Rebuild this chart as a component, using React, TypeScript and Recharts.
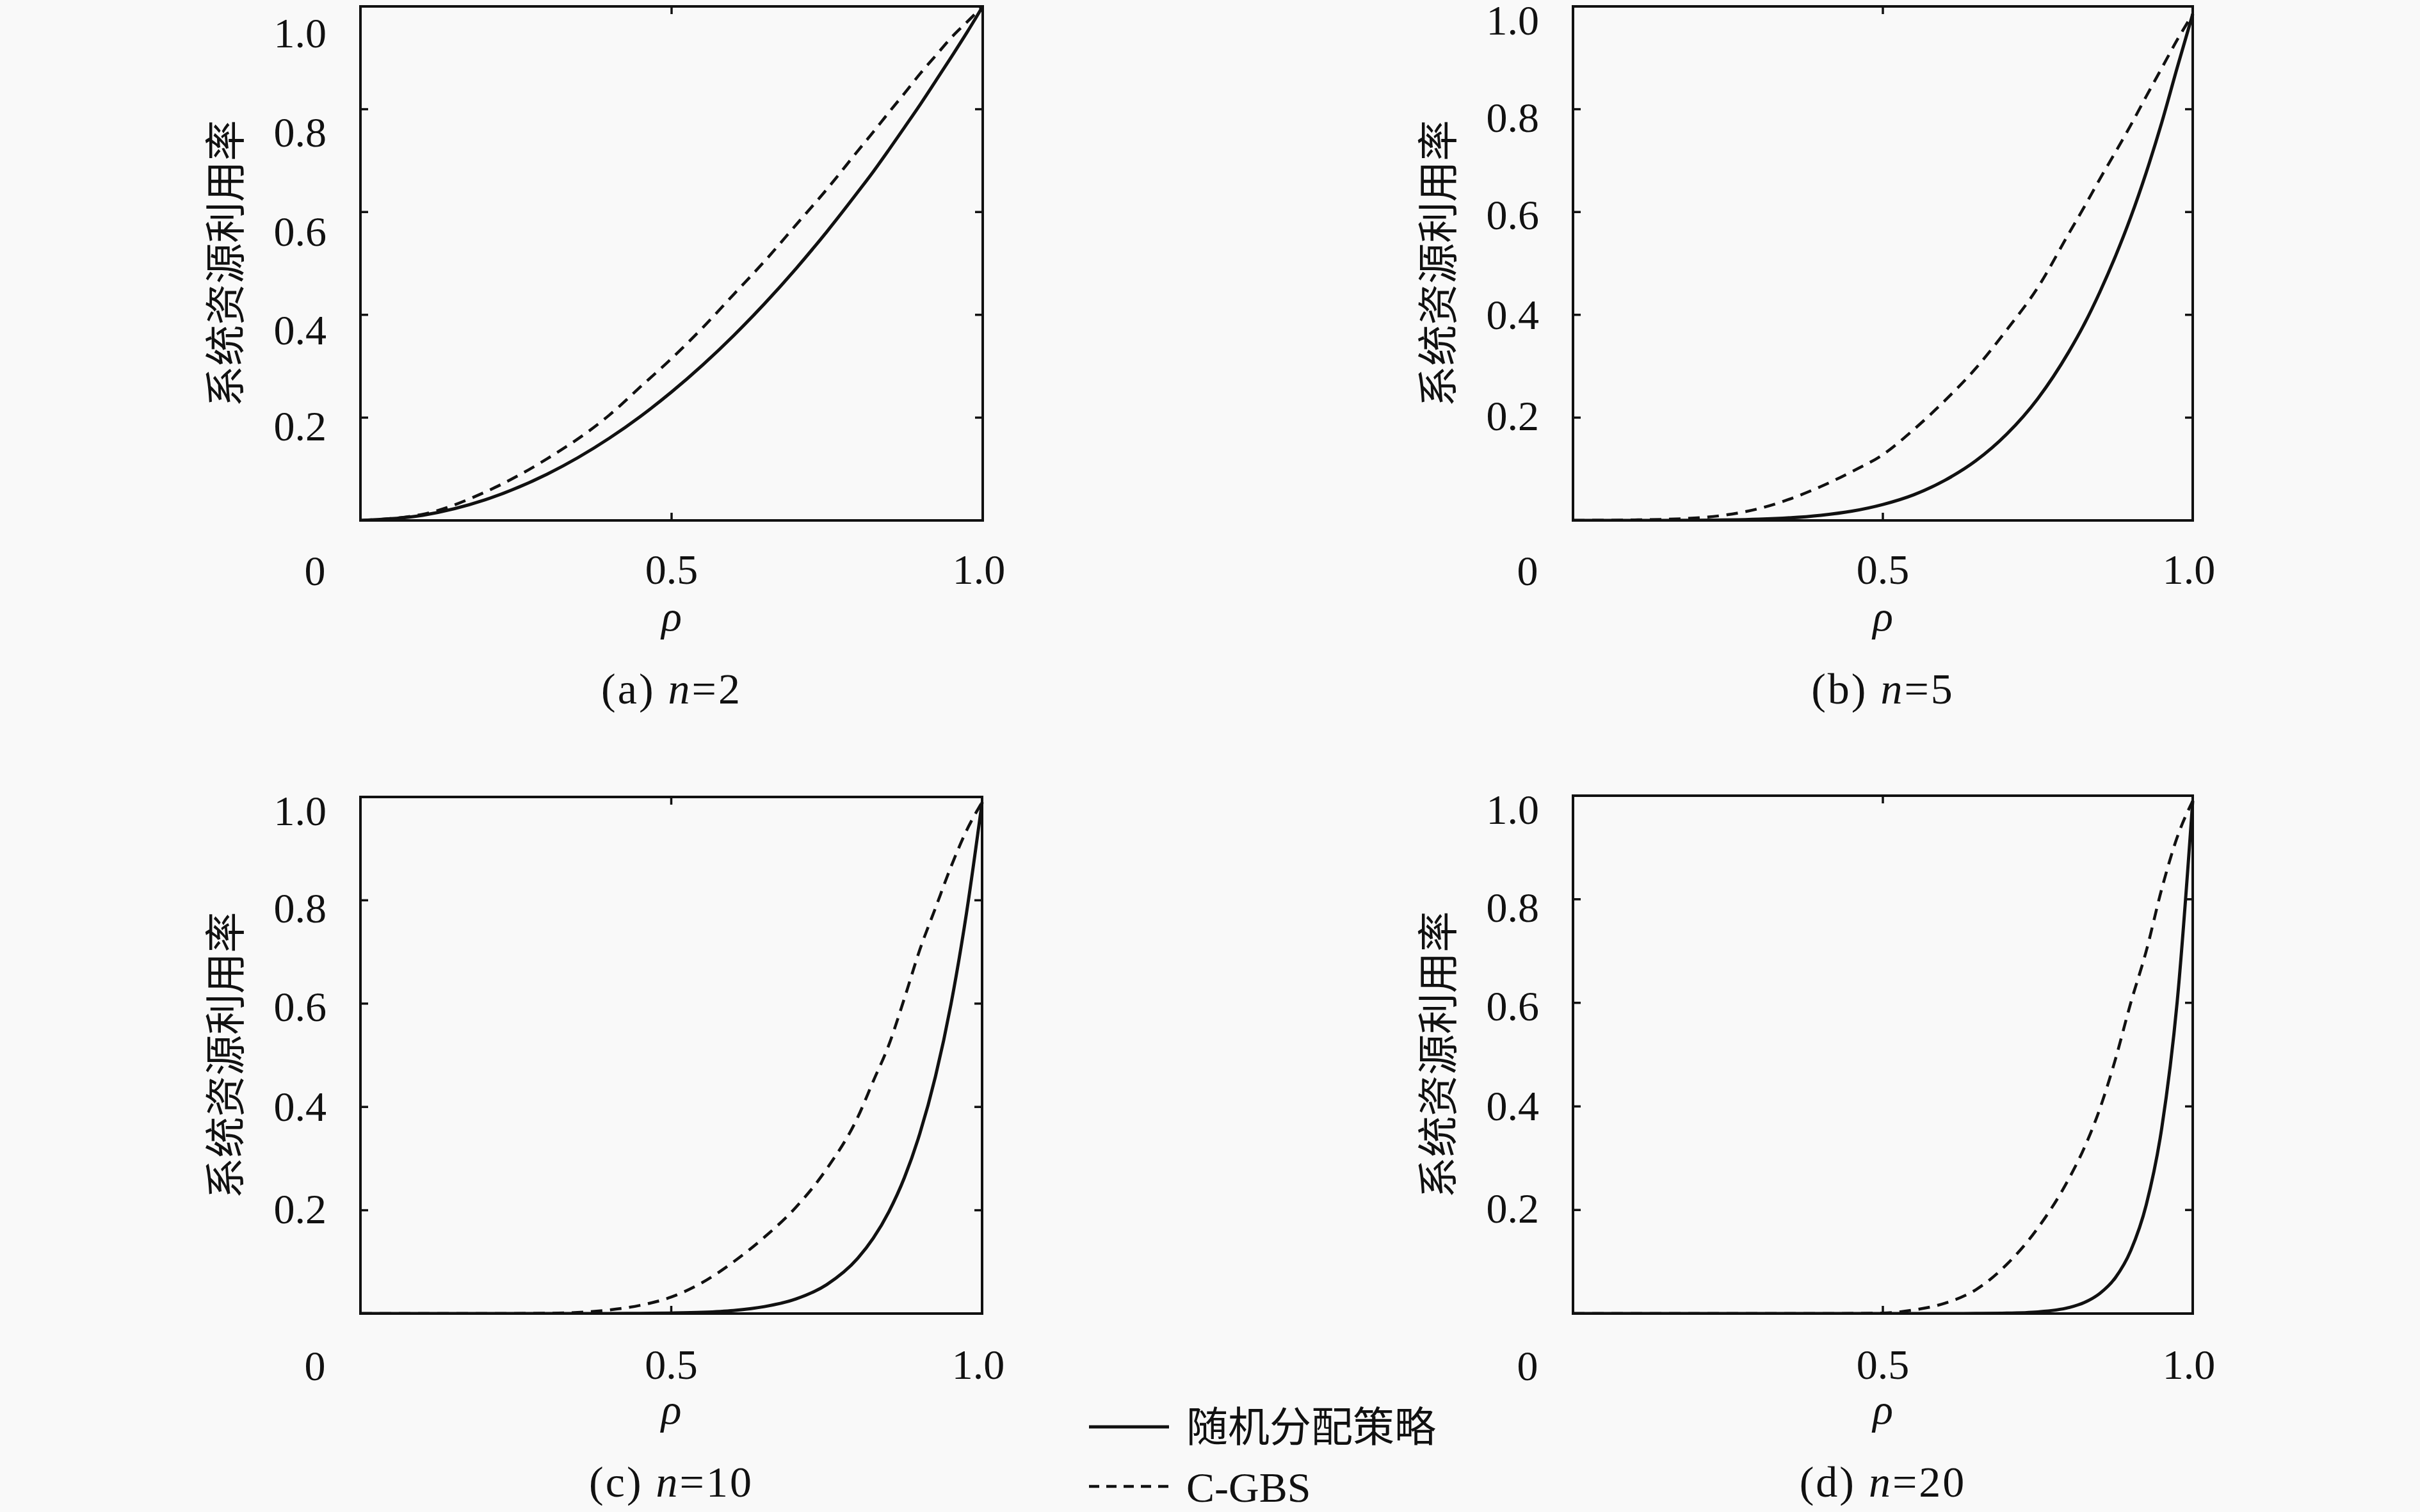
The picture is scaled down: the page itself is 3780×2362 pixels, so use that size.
import React from "react";
import { LineChart, Line, XAxis, YAxis, Label } from "recharts";

// ρ sample points (denser near 1 where the curves get steep)
const RHO = [0, 0.1, 0.2, 0.3, 0.4, 0.45, 0.5, 0.55, 0.6, 0.65, 0.7, 0.75, 0.8, 0.825, 0.85, 0.875, 0.9, 0.925, 0.95, 0.975, 1];

// 随机分配策略 (solid) and C-GBS (dashed)
const RANDOM_N2 = [0, 0.01, 0.04, 0.09, 0.16, 0.2025, 0.25, 0.3025, 0.36, 0.4225, 0.49, 0.5625, 0.64, 0.68, 0.7225, 0.766, 0.81, 0.856, 0.9025, 0.95, 1];
const CGBS_N2 = [0, 0.012, 0.055, 0.12, 0.205, 0.26, 0.315, 0.375, 0.44, 0.505, 0.575, 0.645, 0.72, 0.757, 0.795, 0.832, 0.87, 0.905, 0.94, 0.97, 1];

const RANDOM_N5 = [0, 0, 0.0003, 0.0024, 0.01, 0.018, 0.031, 0.05, 0.078, 0.116, 0.168, 0.237, 0.328, 0.382, 0.444, 0.513, 0.59, 0.677, 0.774, 0.881, 0.985];
const CGBS_N5 = [0, 0.001, 0.005, 0.023, 0.066, 0.095, 0.128, 0.177, 0.233, 0.296, 0.371, 0.453, 0.558, 0.61, 0.664, 0.716, 0.769, 0.825, 0.88, 0.935, 0.985];

const RANDOM_N10 = [0, 0, 0, 0, 0.0001, 0.0003, 0.001, 0.0025, 0.006, 0.0135, 0.028, 0.056, 0.107, 0.146, 0.197, 0.263, 0.349, 0.459, 0.599, 0.776, 0.99];
const CGBS_N10 = [0, 0, 0, 0.0005, 0.007, 0.016, 0.032, 0.06, 0.1, 0.148, 0.205, 0.28, 0.38, 0.45, 0.52, 0.61, 0.705, 0.785, 0.865, 0.935, 0.99];

const RANDOM_N20 = [0, 0, 0, 0, 0, 0, 0, 0, 0, 0.0002, 0.0008, 0.0032, 0.0115, 0.0213, 0.0388, 0.069, 0.1216, 0.21, 0.358, 0.603, 0.99];
const CGBS_N20 = [0, 0, 0, 0, 0, 0.0003, 0.001, 0.007, 0.02, 0.046, 0.095, 0.165, 0.26, 0.32, 0.395, 0.49, 0.6, 0.7, 0.82, 0.92, 0.99];

const X_TICKS = [0, 0.5, 1];
const Y_TICKS = [0, 0.2, 0.4, 0.6, 0.8, 1];

const SERIES_NAMES = ["随机分配策略", "C-GBS"];
const Y_TITLE = "系统资源利用率";
const X_TITLE = "ρ";

const INK = "#111";
const SERIF = "'Liberation Serif', 'Noto Sans CJK SC', serif";
const CJK = "'Noto Sans CJK SC', sans-serif";
const FS = 66;
const TICK = 12;
const Y_AXIS_W = 300;
const X_AXIS_H = 300;
const M_TOP = 60;
const M_RIGHT = 40;
const AXIS_LINE = { stroke: INK, strokeWidth: 4, strokeLinecap: "square" };

// label nudges (px, downward) for y ticks 0.2 … 1.0, as in the original typesetting
const SHIFT_A = [14, 24, 31, 36, 42];
const SHIFT_BCD = [-2, 0, 5, 13, 22];

const PANELS = [
  { tag: "a", n: 2, random: RANDOM_N2, cgbs: CGBS_N2, left: 563, top: 10, w: 972, h: 803, shift: SHIFT_A, xl: 77 },
  { tag: "b", n: 5, random: RANDOM_N5, cgbs: CGBS_N5, left: 2457, top: 10, w: 968, h: 803, shift: SHIFT_BCD, xl: 77 },
  { tag: "c", n: 10, random: RANDOM_N10, cgbs: CGBS_N10, left: 563, top: 1245, w: 971, h: 807, shift: SHIFT_BCD, xl: 80 },
  { tag: "d", n: 20, random: RANDOM_N20, cgbs: CGBS_N20, left: 2457, top: 1243, w: 968, h: 809, shift: SHIFT_BCD, xl: 80 },
];

const fmt = (v: number) => (v === 0 ? "0" : v.toFixed(1));

function LeftTick({ x, y, payload, shift }: any) {
  const v = payload.value;
  const i = Math.round(v * 5) - 1;
  return (
    <g>
      {v > 0 && v < 1 && <line x1={x} x2={x + TICK} y1={y} y2={y} stroke={INK} strokeWidth={3.5} />}
      {v > 0 && (
        <text x={x - 53} y={y + shift[i] + 22} textAnchor="end" fontFamily={SERIF} fontSize={FS} fill={INK}>
          {fmt(v)}
        </text>
      )}
    </g>
  );
}

function RightTick({ x, y, payload }: any) {
  const v = payload.value;
  if (v <= 0 || v >= 1) return <g />;
  return <line x1={x} x2={x - TICK} y1={y} y2={y} stroke={INK} strokeWidth={3.5} />;
}

function BottomTick({ x, y, payload, off }: any) {
  const v = payload.value;
  const dx = v === 0 ? -71 : v === 1 ? -6 : 0;
  return (
    <g>
      {v > 0 && v < 1 && <line x1={x} x2={x} y1={y} y2={y - TICK} stroke={INK} strokeWidth={3.5} />}
      <text x={x + dx} y={y + off + (v === 0 ? 2 : 0) + 22} textAnchor="middle" fontFamily={SERIF} fontSize={FS} fill={INK}>
        {fmt(v)}
      </text>
    </g>
  );
}

function TopTick({ x, y, payload }: any) {
  const v = payload.value;
  if (v <= 0 || v >= 1) return <g />;
  return <line x1={x} x2={x} y1={y} y2={y + TICK} stroke={INK} strokeWidth={3.5} />;
}

function Panel({ p }: { p: (typeof PANELS)[number] }) {
  const data = RHO.map((r, i) => ({ rho: r, random: p.random[i], cgbs: p.cgbs[i] }));
  const W = Y_AXIS_W + p.w + M_RIGHT;
  const H = M_TOP + p.h + X_AXIS_H;
  return (
    <div style={{ position: "absolute", left: p.left - Y_AXIS_W, top: p.top - M_TOP }}>
      <LineChart width={W} height={H} data={data} margin={{ top: M_TOP - 1, right: M_RIGHT - 1, bottom: 0, left: 0 }}>
        <XAxis
          xAxisId="b"
          dataKey="rho"
          type="number"
          domain={[0, 1]}
          ticks={X_TICKS}
          interval={0}
          height={X_AXIS_H}
          tickSize={0}
          tickMargin={0}
          tickLine={false}
          axisLine={AXIS_LINE}
          tick={(t: any) => <BottomTick {...t} off={p.xl} />}
        >
          <Label
            content={({ viewBox }: any) => {
              const cx = viewBox.x + viewBox.width / 2;
              return (
                <g fontFamily={SERIF} fill={INK}>
                  <text x={cx} y={viewBox.y + 172} textAnchor="middle" fontStyle="italic" fontSize={FS}>
                    {X_TITLE}
                  </text>
                  <text x={cx} y={viewBox.y + 286} textAnchor="middle" fontSize={68} letterSpacing={3}>
                    ({p.tag}) <tspan fontStyle="italic">n</tspan>={p.n}
                  </text>
                </g>
              );
            }}
          />
        </XAxis>
        <XAxis
          xAxisId="t"
          dataKey="rho"
          type="number"
          orientation="top"
          domain={[0, 1]}
          ticks={X_TICKS}
          interval={0}
          height={1}
          tickSize={0}
          tickMargin={0}
          tickLine={false}
          axisLine={AXIS_LINE}
          tick={(t: any) => <TopTick {...t} />}
        />
        <YAxis
          yAxisId="l"
          type="number"
          domain={[0, 1]}
          ticks={Y_TICKS}
          interval={0}
          width={Y_AXIS_W}
          tickSize={0}
          tickMargin={0}
          tickLine={false}
          axisLine={AXIS_LINE}
          allowDataOverflow
          tick={(t: any) => <LeftTick {...t} shift={p.shift} />}
        >
          <Label
            content={({ viewBox }: any) => {
              const cx = viewBox.x + viewBox.width - 216;
              const cy = viewBox.y + viewBox.height / 2;
              return (
                <text
                  x={cx}
                  y={cy}
                  transform={`rotate(-90 ${cx} ${cy})`}
                  textAnchor="middle"
                  dominantBaseline="central"
                  fontFamily={CJK}
                  fontSize={64}
                  fill={INK}
                >
                  {Y_TITLE}
                </text>
              );
            }}
          />
        </YAxis>
        <YAxis
          yAxisId="r"
          orientation="right"
          type="number"
          domain={[0, 1]}
          ticks={Y_TICKS}
          interval={0}
          width={1}
          tickSize={0}
          tickMargin={0}
          tickLine={false}
          axisLine={AXIS_LINE}
          allowDataOverflow
          tick={(t: any) => <RightTick {...t} />}
        />
        <Line
          xAxisId="b"
          yAxisId="l"
          dataKey="random"
          name={SERIES_NAMES[0]}
          type="monotone"
          stroke={INK}
          strokeWidth={5}
          dot={false}
          isAnimationActive={false}
        />
        <Line
          xAxisId="b"
          yAxisId="l"
          dataKey="cgbs"
          name={SERIES_NAMES[1]}
          type="monotone"
          stroke={INK}
          strokeWidth={4.5}
          strokeDasharray="18 12"
          dot={false}
          isAnimationActive={false}
        />
      </LineChart>
    </div>
  );
}

function SharedLegend() {
  // sits between panels (c) and (d), bottom of the page
  return (
    <svg style={{ position: "absolute", left: 1680, top: 2170 }} width={640} height={192}>
      <line x1={21} x2={146} y1={59} y2={59} stroke={INK} strokeWidth={5} />
      <text x={173} y={82} fontFamily={CJK} fontSize={65} fill={INK}>
        {SERIES_NAMES[0]}
      </text>
      <line x1={21} x2={146} y1={152} y2={152} stroke={INK} strokeWidth={4.5} strokeDasharray="16 11" />
      <text x={173} y={176} fontFamily={SERIF} fontSize={FS} fill={INK}>
        {SERIES_NAMES[1]}
      </text>
    </svg>
  );
}

export default function App() {
  return (
    <div
      style={{
        position: "absolute",
        left: 0,
        top: 0,
        width: 3780,
        height: 2362,
        background: "#f9f9f9",
        overflow: "hidden",
      }}
    >
      {PANELS.map((p) => (
        <Panel key={p.tag} p={p} />
      ))}
      <SharedLegend />
    </div>
  );
}
